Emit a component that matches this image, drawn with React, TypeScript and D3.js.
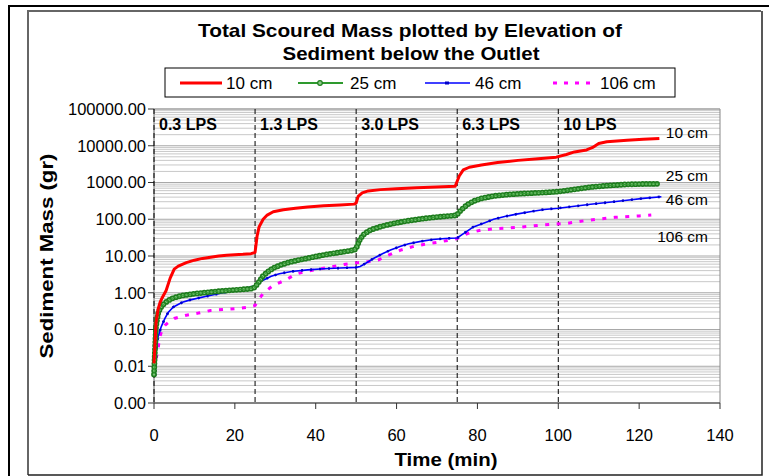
import React from "react";
import * as d3 from "d3";

const title1 = "Total Scoured Mass plotted by Elevation of";
const title2 = "Sediment below the Outlet";
const xTicks = [0, 20, 40, 60, 80, 100, 120, 140];
const yTicks = [0.001, 0.01, 0.1, 1, 10, 100, 1000, 10000, 100000];
const minorMult = [2, 3, 4, 5, 6, 7, 8, 9];
const phaseBounds = [0, 25, 50, 75, 100];
const phaseLabels = ["0.3 LPS", "1.3 LPS", "3.0 LPS", "6.3 LPS", "10 LPS"];

const red10: [number, number][] = [
  [0, 0.012], [0.5, 0.15], [1, 0.35], [1.5, 0.55], [2, 0.72], [3, 1.15], [4, 2.5], [5, 4.4], [6, 5.3], [8, 6.6],
  [10, 7.7], [12, 8.6], [14, 9.3], [16, 10], [18, 10.5], [20, 10.8], [22, 11.1], [24, 11.6], [25, 12.5],
  [25.5, 35], [26, 62], [27, 100], [28, 130], [29.5, 160], [32, 182], [35, 200], [38, 217], [42, 232], [46, 246],
  [49.5, 258], [50, 275], [50.5, 420], [51.5, 520], [53, 590], [56, 640], [60, 680], [65, 715], [70, 750],
  [74.5, 790], [75.5, 1500], [76.5, 2200], [78, 2600], [81, 3000], [85, 3500], [90, 4000], [95, 4400],
  [99.5, 4900], [102, 5800], [104, 6800], [107, 7700], [108.5, 9000], [110, 11500], [112, 12800], [117, 14200],
  [121, 15000], [125, 15800],
];
const green25: [number, number][] = [
  [0, 0.006], [0.25, 0.03], [0.5, 0.12], [1, 0.27], [1.5, 0.37], [2, 0.45], [3, 0.56], [4, 0.66], [5, 0.74],
  [7, 0.84], [10, 0.94], [13, 1.02], [16, 1.1], [19, 1.17], [22, 1.24], [24.5, 1.3], [25, 1.45], [26, 2.0],
  [27, 2.9], [28, 3.6], [29.5, 4.7], [31.5, 5.8], [33.5, 6.8], [36, 7.9], [38, 8.7], [40, 9.7], [43, 11.2],
  [46, 12.6], [49.5, 14.5], [50, 16], [50.5, 22], [51, 29], [52, 40], [53.5, 51], [56, 63], [58.5, 74], [62, 88],
  [66.5, 104], [70, 115], [74.5, 127], [75, 135], [76, 180], [77.5, 250], [79, 310], [81, 370], [84, 430],
  [88, 475], [92, 505], [96, 530], [100, 565], [104, 650], [108, 750], [112, 820], [117, 890], [121, 910],
  [125, 920],
];
const blue46: [number, number][] = [
  [0, 0.006], [0.3, 0.006], [0.6, 0.03], [1, 0.063], [1.8, 0.12], [2.7, 0.2], [3.5, 0.29], [4.8, 0.41], [7, 0.55],
  [9, 0.64], [13, 0.8], [17, 1.0], [21, 1.22], [24, 1.42], [25, 1.55], [27, 2.2], [29, 2.8], [31, 3.3], [34, 3.8],
  [38, 4.2], [42, 4.5], [46, 4.7], [50, 4.9], [51, 5.2], [53, 7], [54.5, 8.8], [56.5, 11.5], [58.5, 14.5],
  [61, 18.5], [63, 21.5], [66, 25], [69, 28], [72, 30], [75, 31], [77, 44], [79, 62], [82, 82], [84, 100],
  [87, 120], [90, 140], [93, 160], [96.5, 185], [100, 200], [104, 225], [108, 255], [112, 285], [117, 330],
  [121, 370], [125.5, 410],
];
const mag106: [number, number][] = [
  [0, 0.008], [0.5, 0.015], [1, 0.03], [1.4, 0.06], [2, 0.1], [2.7, 0.13], [4, 0.17], [5, 0.2], [8, 0.245],
  [11, 0.28], [14, 0.33], [17, 0.35], [20, 0.37], [23, 0.4], [25, 0.45], [25.5, 0.56], [27, 0.96], [29.5, 1.6],
  [32.5, 2.2], [35, 3.2], [38, 3.9], [41, 4.4], [44, 5.1], [47, 5.9], [50, 6.5], [53, 7], [55.5, 7.8], [58, 10.5],
  [61, 14.5], [64, 18], [67, 21], [70, 23.5], [73, 27], [75, 30], [78, 43], [81, 51], [85, 56], [90, 60],
  [96, 70], [102, 77], [107, 93], [114, 113], [120, 123], [123, 130],
];
const legendNames = ["10 cm", "25 cm", "46 cm", "106 cm"];
const endLabels = ["10 cm", "25 cm", "46 cm", "106 cm"];

const FONT = "'Liberation Sans', Arial, sans-serif";

export default function App() {
  const x = d3.scaleLinear().domain([0, 140]).range([154, 720]);
  const y = d3.scaleLog().domain([0.001, 100000]).range([403, 109]);
  const line = d3
    .line<[number, number]>()
    .x((d) => x(d[0]))
    .y((d) => y(d[1]));
  const minors: number[] = [];
  yTicks.slice(0, -1).forEach((t) => minorMult.forEach((m) => minors.push(t * m)));
  const fmt = d3.format(".2f");

  const legendY = 83;
  const legX = [180, 298, 425, 553];
  const legTextX = [226, 350, 475, 600];

  return (
    <svg width={769} height={476} style={{ display: "block", position: "absolute", left: 0, top: 0 }} fontFamily={FONT}>
      <rect x={0} y={0} width={769} height={476} fill="#fff" />
      {/* outer frame */}
      <path d="M9,480 L9,6 L780,6" fill="none" stroke="#000" strokeWidth={2} />
      <path d="M28,475 L28,11 L761,11" fill="none" stroke="#666" strokeWidth={2} />
      <path d="M762,11 L762,475 L28,475" fill="none" stroke="#222" strokeWidth={1.5} />

      {/* title */}
      <text x={410} y={37} textAnchor="middle" fontSize={19} fontWeight="bold" textLength={424} lengthAdjust="spacingAndGlyphs">{title1}</text>
      <text x={411} y={60} textAnchor="middle" fontSize={19} fontWeight="bold" textLength={257} lengthAdjust="spacingAndGlyphs">{title2}</text>

      {/* gridlines */}
      {minors.map((v, i) => (
        <line key={"m" + i} x1={154} x2={720} y1={y(v)} y2={y(v)} stroke="#c8c8c8" strokeWidth={1} />
      ))}
      {yTicks.map((v, i) => (
        <line key={"g" + i} x1={154} x2={720} y1={y(v)} y2={y(v)} stroke="#a8a8a8" strokeWidth={1} />
      ))}
      <line x1={720} x2={720} y1={109} y2={403} stroke="#888" strokeWidth={1} />
      <line x1={154} x2={720} y1={109} y2={109} stroke="#999" strokeWidth={1} />

      {/* axes */}
      <line x1={154} x2={154} y1={109} y2={403} stroke="#666" strokeWidth={1} />
      <line x1={154} x2={720} y1={403} y2={403} stroke="#333" strokeWidth={1.2} />
      {yTicks.map((v, i) => (
        <g key={"yt" + i}>
          <line x1={148} x2={154} y1={y(v)} y2={y(v)} stroke="#333" />
          <text x={146} y={y(v)} dy="0.35em" textAnchor="end" fontSize={16.5}>{fmt(v)}</text>
        </g>
      ))}
      {xTicks.map((v, i) => (
        <g key={"xt" + i}>
          <line x1={x(v)} x2={x(v)} y1={403} y2={409} stroke="#333" />
          <text x={x(v)} y={435} dy="0.35em" textAnchor="middle" fontSize={16.5}>{v}</text>
        </g>
      ))}

      {/* phase lines */}
      {phaseBounds.map((v, i) => (
        <line key={"p" + i} x1={x(v)} x2={x(v)} y1={109} y2={403} stroke="#000" strokeWidth={1} strokeDasharray="5 3" />
      ))}
      {phaseLabels.map((s, i) => (
        <text key={"pl" + i} x={x(phaseBounds[i]) + 5} y={130} fontSize={16} fontWeight="bold">{s}</text>
      ))}

      {/* series */}
      <path d={line(mag106) || ""} fill="none" stroke="#ff00ff" strokeWidth={3} strokeDasharray="4 7.5" />
      <path d={line(blue46) || ""} fill="none" stroke="#0000ff" strokeWidth={1.6} />
      <path d={line(blue46) || ""} fill="none" stroke="#0000c8" strokeWidth={2.6} strokeDasharray="2 7" />
      <path d={line(green25) || ""} fill="none" stroke="#1e7d1e" strokeWidth={5.8} strokeDasharray="0 3.6" strokeLinecap="round" />
      <path d={line(green25) || ""} fill="none" stroke="#8fcc8a" strokeWidth={2.4} strokeDasharray="0 3.6" strokeLinecap="round" />
      <path d={line(green25) || ""} fill="none" stroke="#2e9a2e" strokeWidth={1} />
      <path d={line(red10) || ""} fill="none" stroke="#ff0000" strokeWidth={3} strokeLinejoin="round" />

      {/* end labels */}
      {endLabels.map((s, i) => (
        <text key={"el" + i} x={708} y={[133, 176, 200, 237][i]} dy="0.35em" textAnchor="end" fontSize={15.5}>{s}</text>
      ))}

      {/* axis titles */}
      <text x={446} y={459} dy="0.35em" textAnchor="middle" fontSize={19} fontWeight="bold" textLength={103} lengthAdjust="spacingAndGlyphs">Time (min)</text>
      <text transform="translate(46,256) rotate(-90)" textAnchor="middle" dy="0.35em" fontSize={19} fontWeight="bold" textLength={205} lengthAdjust="spacingAndGlyphs">Sediment Mass (gr)</text>

      {/* legend */}
      <rect x={165} y={68} width={510} height={29} fill="#fff" stroke="#000" strokeWidth={1} />
      <line x1={legX[0]} x2={legX[0] + 42} y1={legendY} y2={legendY} stroke="#ff0000" strokeWidth={3} />
      <line x1={legX[1]} x2={legX[1] + 45} y1={legendY} y2={legendY} stroke="#2e9a2e" strokeWidth={2} />
      <circle cx={legX[1] + 22} cy={legendY} r={2.3} fill="#8fcc8a" stroke="#1e7d1e" strokeWidth={1.2} />
      <line x1={legX[2]} x2={legX[2] + 45} y1={legendY} y2={legendY} stroke="#0000ff" strokeWidth={1.5} />
      <rect x={legX[2] + 20} y={legendY - 1.5} width={4} height={3} fill="#0000c8" />
      <line x1={legX[3]} x2={legX[3] + 42} y1={legendY} y2={legendY} stroke="#ff00ff" strokeWidth={3} strokeDasharray="4 7" />
      {legendNames.map((s, i) => (
        <text key={"ln" + i} x={legTextX[i]} y={legendY} dy="0.35em" fontSize={17}>{s}</text>
      ))}
    </svg>
  );
}
